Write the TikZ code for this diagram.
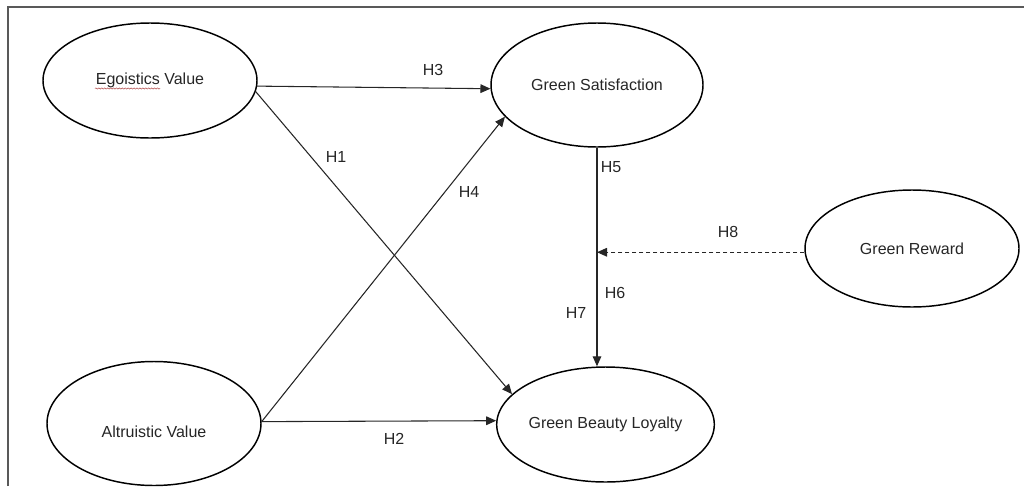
\documentclass[tikz,border=0pt]{standalone}
\usepackage{fontspec}
\setmainfont{Liberation Sans}
\usetikzlibrary{shapes.geometric,arrows.meta,calc,decorations.pathmorphing}
\begin{document}
\begin{tikzpicture}[x=0.75pt,y=-0.75pt,
  font=\fontsize{12}{14}\selectfont,
  oval/.style={ellipse, draw=black, line width=1.1pt, inner sep=0pt, text=black!85},
  conn/.style={line width=0.8pt, black!85, -{Triangle[length=7.5pt,width=6.5pt]}},
  dconn/.style={conn, dash pattern=on 3pt off 2.25pt},
  hlab/.style={text=black!85, inner sep=0pt},
  frame/.style={line width=1pt, black!65}]
\useasboundingbox (0,0) rectangle (1024,486);
\draw[frame] (8,486) -- (8,7) -- (1024,7);

\node[oval, minimum width=160.5pt, minimum height=86.25pt] (ego) at (150,80.5) {Egoistics Value};
\node[oval, minimum width=159pt, minimum height=93pt] (gs) at (597,85) {Green Satisfaction};
\node[oval, minimum width=160.5pt, minimum height=93pt,
      label={[name=avl, text=black!85, yshift=-6.5pt]center:Altruistic Value}] (av) at (154,423.5) {};
\node[oval, minimum width=159.75pt, minimum height=86.25pt] (gbl) at (605.5,424.5) {Green Beauty Loyalty};
\node[oval, minimum width=160.5pt, minimum height=87.75pt] (gr) at (912,248.5) {Green Reward};

% spell-check underline
\draw[red!40!gray, line width=0.4pt, decorate, decoration={snake, segment length=2.2pt, amplitude=0.45pt}]
  ($(ego.center)+(-55,8)$) -- ($(ego.center)+(10,8)$);

\draw[conn] (ego.-3.6) -- (gs.182);
\draw[conn] (ego.-6.9) -- (gbl.162);
\draw[conn] (av.1) -- (gs.199);
\draw[conn] (av.1) -- (gbl.178.5);
\draw[conn] (gs.south) -- (gs.south |- gbl.north);
\draw[dconn] (gr.182) -- (gr.182 -| gs.south);

\node[hlab] (h3) at (433,70) {H3};
\node[hlab] (h1) at (336,157) {H1};
\node[hlab] (h4) at (469,192) {H4};
\node[hlab] (h2) at (394,439) {H2};
\node[hlab] (h5) at (611,167) {H5};
\node[hlab] (h8) at (728,232) {H8};
\node[hlab] (h6) at (615,293) {H6};
\node[hlab] (h7) at (576,313) {H7};
\end{tikzpicture}
\end{document}
